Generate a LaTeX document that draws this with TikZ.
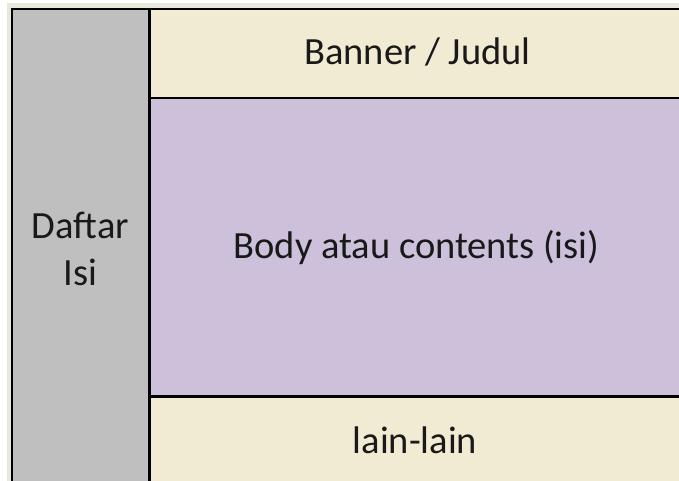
\documentclass[tikz,border=0pt]{standalone}
\usepackage{fontspec}
\setmainfont{Carlito}

\definecolor{kolom}{RGB}{191,191,191}
\definecolor{krem}{RGB}{242,235,211}
\definecolor{ungu}{RGB}{204,192,218}
\definecolor{bayang}{RGB}{232,232,220}

\tikzset{
    kotak/.style={draw=black, line width=2.5pt, inner sep=0pt, anchor=north west},
    tulisan/.style={font=\fontsize{38.5}{47}\selectfont, text=black!90}
}

\begin{document}
\begin{tikzpicture}[x=1pt,y=-1pt]
    \useasboundingbox (0,0) rectangle (679,481);
    \clip (0,0) rectangle (679,481);
    \fill[bayang] (7,3) rectangle (700,500);
    \node[kotak, fill=kolom, minimum width=137.5pt, minimum height=482pt] (daftar) at (10.5,8) {};
    \node[kotak, fill=krem, minimum width=545pt, minimum height=89pt] (banner) at (148,8) {};
    \node[kotak, fill=ungu, minimum width=545pt, minimum height=298pt] (body) at (148,97) {};
    \node[kotak, fill=krem, minimum width=545pt, minimum height=100pt] (lain) at (148,395) {};
    % tulisan
    \node[tulisan, align=center] at (80.5,249) {Daftar\\Isi};
    \node[tulisan] at (417.5,52) {Banner / Judul};
    \node[tulisan] at (416.5,248) {Body atau contents (isi)};
    \node[tulisan] at (415,440) {lain-lain};
\end{tikzpicture}
\end{document}
